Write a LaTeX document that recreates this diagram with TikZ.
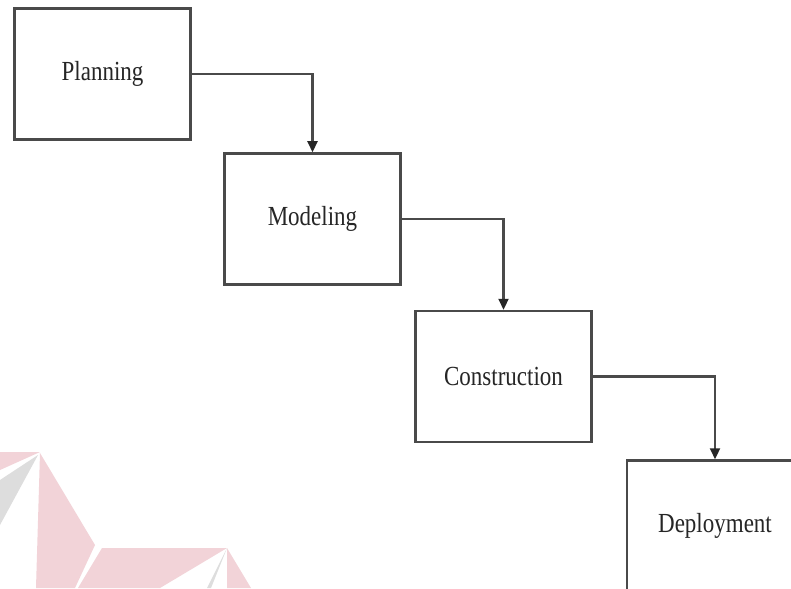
\documentclass[tikz,border=0pt]{standalone}
\usepackage{fontspec}
\setmainfont{Liberation Serif}
\usetikzlibrary{arrows.meta}
\definecolor{wmpink}{HTML}{F2D3D8}
\definecolor{wmgray}{HTML}{DDDDDD}
\definecolor{linegray}{HTML}{4A4A4A}
\tikzset{
  stage/.style={draw=linegray, line width=2.5pt, minimum width=176pt, minimum height=131pt,
    inner sep=0pt, font=\fontsize{23}{28}\selectfont, text=black!85},
  flow/.style={draw=linegray, line width=2.2pt, -{Triangle[length=11pt,width=10pt,fill=black!85,color=black!85]}},
}
\newcommand{\stretchtxt}[1]{\scalebox{1}[1.2]{#1}}
\begin{document}
\begin{tikzpicture}[x=1pt,y=-1pt]
\clip (0,0) rectangle (791,588);
\fill[white] (0,0) rectangle (791,588);
% watermark
\fill[wmpink] (0,452) -- (40,452) -- (0,470) -- cycle;
\fill[wmgray] (0,480) -- (38,455) -- (0,525) -- cycle;
\fill[wmpink] (40,453) -- (95,545) -- (75,588) -- (36,588) -- cycle;
\fill[wmpink] (102,548) -- (227,548) -- (160,588) -- (78,588) -- cycle;
\fill[wmgray] (227,548) -- (207,588) -- (211,588) -- cycle;
\fill[wmpink] (227,548) -- (251,588) -- (227,588) -- cycle;
% stages
\node[stage] (plan) at (102.5,74) {\stretchtxt{Planning}};
\node[stage] (model) at (312.5,219) {\stretchtxt{Modeling}};
\node[stage] (constr) at (503.5,376.5) {\stretchtxt{Construction}};
\node[stage] (deploy) at (715,526) {\stretchtxt{Deployment}};
% connectors
\draw[flow] (plan.east) -| (model.north);
\draw[flow] (model.east) -| (constr.north);
\draw[flow] (constr.east) -| (deploy.north);
\end{tikzpicture}
\end{document}
